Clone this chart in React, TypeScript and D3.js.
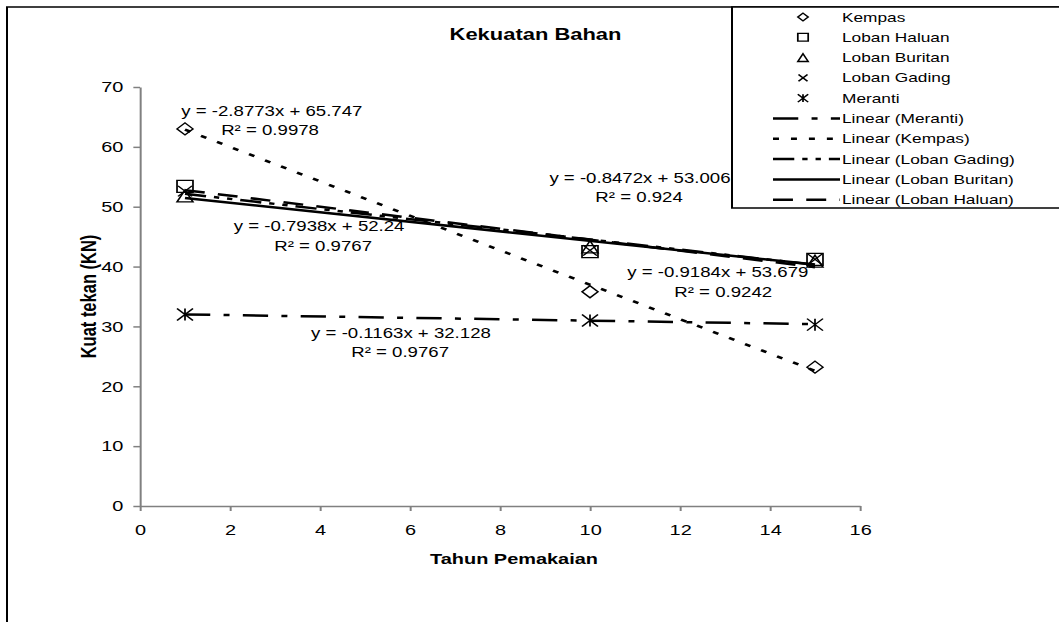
import { useRef, useEffect } from "react";
import * as d3 from "d3";

// data
const tahun = [1, 10, 15];
const seriesNames = ["Kempas", "Loban Haluan", "Loban Buritan", "Loban Gading", "Meranti"];
const kempas = [63, 35.8, 23.2];
const lobanHaluan = [53.4, 42.5, 41.2];
const lobanBuritan = [51.8, 43.3, 40.9];
const lobanGading = [52.6, 42.7, 41.2];
const meranti = [32, 31, 30.3];
const seriesValues = [kempas, lobanHaluan, lobanBuritan, lobanGading, meranti];

// trendline equations as printed on the chart
const slopes = [-2.8773, -0.9184, -0.7938, -0.8472, -0.1163];
const intercepts = [65.747, 53.679, 52.24, 53.006, 32.128];
const rSquared = ["0.9978", "0.9242", "0.9767", "0.924", "0.9767"];
const trendLegendOrder = ["Meranti", "Kempas", "Loban Gading", "Loban Buritan", "Loban Haluan"];

const xTicks = [0, 2, 4, 6, 8, 10, 12, 14, 16];
const yTicks = [0, 10, 20, 30, 40, 50, 60, 70];

// where the equation labels sit (data units)
const eqPos = [[2.93, 66.0], [12.84, 39.0], [3.98, 46.8], [11.11, 54.8], [5.8, 28.9]];
const r2Pos = [[2.89, 62.8], [12.96, 35.7], [4.07, 43.5], [11.09, 51.6], [5.78, 25.7]];

// styles
const markerKind = ["diamond", "square", "triangle", "cross", "star"];
const markerSize = [12, 12, 12, 10.5, 12];
const dashes = ["4.5,9", "15,10", null, "16,6,4,6,4,6", "19,10,4.5,10"];

const K = 1.33; // the picture is stretched horizontally
const W = 1059;
const H = 622;
const NW = W / K;
const FONT = "'Liberation Sans', Arial, sans-serif";

const markerPath = (kind, s) => {
  const h = s / 2;
  if (kind === "diamond") return `M0,${-h}L${h},0L0,${h}L${-h},0Z`;
  if (kind === "square") return `M${-h},${-h}H${h}V${h}H${-h}Z`;
  if (kind === "triangle") return `M0,${-h}L${h},${h}L${-h},${h}Z`;
  if (kind === "cross") return `M${-h},${-h}L${h},${h}M${-h},${h}L${h},${-h}`;
  return `M${-h},${-h}L${h},${h}M${-h},${h}L${h},${-h}M0,${-h}V${h}`;
};

const App = () => {
  const svgRef = useRef(null);

  useEffect(() => {
    const svg = d3.select(svgRef.current);
    svg.selectAll("*").remove();

    const x = d3.scaleLinear().domain([0, 16]).range([140 / K, 860 / K]);
    const y = d3.scaleLinear().domain([0, 70]).range([506, 87]);

    // frame of the chart area
    svg.append("rect")
      .attr("x", 7 / K).attr("y", 7)
      .attr("width", NW * 2).attr("height", H + 20)
      .attr("fill", "#fff").attr("stroke", "#000").attr("stroke-width", 1.5);

    // axes
    const yAxis = svg.append("g")
      .attr("transform", `translate(${x(0)},0)`)
      .call(d3.axisLeft(y).tickValues(yTicks).tickSize(5).tickPadding(7.5).tickSizeOuter(0));
    const xAxis = svg.append("g")
      .attr("transform", `translate(0,${y(0)})`)
      .call(d3.axisBottom(x).tickValues(xTicks).tickSize(5).tickPadding(13.5).tickSizeOuter(0));
    [yAxis, xAxis].forEach((g) => {
      g.selectAll("path, line").attr("stroke", "#808080").attr("stroke-width", 1.5);
      g.selectAll("text").attr("font-family", FONT).attr("font-size", 15).attr("fill", "#000");
    });

    // markers
    seriesValues.forEach((vals, i) => {
      svg.append("g").selectAll("path")
        .data(vals)
        .enter()
        .append("path")
        .attr("transform", (d, j) => `translate(${x(tahun[j])},${y(d)})`)
        .attr("d", markerPath(markerKind[i], markerSize[i]))
        .attr("fill", "none")
        .attr("stroke", "#000")
        .attr("stroke-width", 1.3);
    });

    // trendlines
    const line = d3.line().x((d) => x(d[0])).y((d) => y(d[1]));
    seriesValues.forEach((vals, i) => {
      const x0 = d3.min(tahun);
      const x1 = d3.max(tahun);
      const pts = [[x0, slopes[i] * x0 + intercepts[i]], [x1, slopes[i] * x1 + intercepts[i]]];
      svg.append("path")
        .attr("d", line(pts))
        .attr("fill", "none")
        .attr("stroke", "#000")
        .attr("stroke-width", 2.5)
        .attr("stroke-dasharray", dashes[i]);
    });

    // equation labels
    seriesValues.forEach((vals, i) => {
      const eq = `y = ${slopes[i]}x + ${intercepts[i]}`;
      const r2 = `R² = ${rSquared[i]}`;
      [[eq, eqPos[i]], [r2, r2Pos[i]]].forEach(([t, p]) => {
        svg.append("text")
          .attr("x", x(p[0])).attr("y", y(p[1]))
          .attr("dy", "0.35em")
          .attr("text-anchor", "middle")
          .attr("font-family", FONT).attr("font-size", 14)
          .text(t);
      });
    });

    // titles
    svg.append("text")
      .attr("x", 535.5 / K).attr("y", 40)
      .attr("text-anchor", "middle")
      .attr("font-family", FONT).attr("font-size", 16.5).attr("font-weight", "bold")
      .text("Kekuatan Bahan");
    svg.append("text")
      .attr("x", 514 / K).attr("y", 564)
      .attr("text-anchor", "middle")
      .attr("font-family", FONT).attr("font-size", 15).attr("font-weight", "bold")
      .text("Tahun Pemakaian");
    svg.append("text")
      .attr("transform", `translate(${88 / K},${(y(0) + y(70)) / 2}) rotate(-90)`)
      .attr("dy", "0.35em")
      .attr("text-anchor", "middle")
      .attr("font-family", FONT).attr("font-size", 16.5).attr("font-weight", "bold")
      .text("Kuat tekan (KN)");

    // legend
    const lg = svg.append("g");
    lg.append("rect")
      .attr("x", 732 / K).attr("y", 7)
      .attr("width", NW).attr("height", 201)
      .attr("fill", "#fff").attr("stroke", "#000").attr("stroke-width", 1.5);
    const rowY = (r) => 17 + r * 20.3;
    seriesNames.forEach((name, i) => {
      lg.append("path")
        .attr("transform", `translate(${803 / K},${rowY(i)})`)
        .attr("d", markerPath(markerKind[i], markerSize[i] * 0.65))
        .attr("fill", "none").attr("stroke", "#000").attr("stroke-width", 1.3);
      lg.append("text")
        .attr("x", 842 / K).attr("y", rowY(i)).attr("dy", "0.35em")
        .attr("font-family", FONT).attr("font-size", 13)
        .text(name);
    });
    trendLegendOrder.forEach((name, r) => {
      const i = seriesNames.indexOf(name);
      const yy = rowY(r + 5);
      lg.append("line")
        .attr("x1", 773 / K).attr("x2", 840 / K)
        .attr("y1", yy).attr("y2", yy)
        .attr("stroke", "#000").attr("stroke-width", 2.5)
        .attr("stroke-dasharray", dashes[i]);
      lg.append("text")
        .attr("x", 842 / K).attr("y", yy).attr("dy", "0.35em")
        .attr("font-family", FONT).attr("font-size", 13)
        .text(`Linear (${name})`);
    });
  }, []);

  return (
    <svg
      ref={svgRef}
      width={W}
      height={H}
      viewBox={`0 0 ${NW} ${H}`}
      preserveAspectRatio="none"
      style={{ position: "absolute", left: 0, top: 0, background: "#fff" }}
    ></svg>
  );
};

export default App;
